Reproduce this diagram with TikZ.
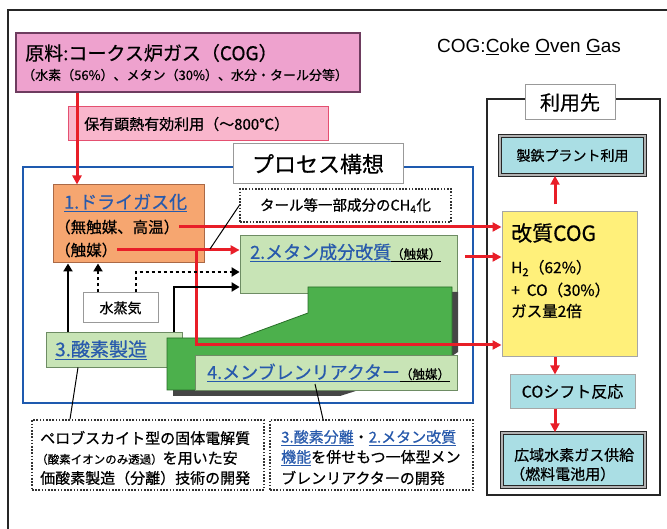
\documentclass[tikz,border=0pt]{standalone}
\usepackage{fontspec}
\setmainfont{Noto Sans CJK JP}[FakeBold=0.6]
\newfontfamily\latinsans{Liberation Sans}
\usetikzlibrary{arrows.meta,calc}
\definecolor{pinkfill}{RGB}{238,162,206}
\definecolor{pinkline}{RGB}{110,60,95}
\definecolor{labfill}{RGB}{249,182,204}
\definecolor{labline}{RGB}{228,80,112}
\definecolor{orfill}{RGB}{246,166,112}
\definecolor{orline}{RGB}{170,105,70}
\definecolor{lgfill}{RGB}{200,228,182}
\definecolor{lgline}{RGB}{110,140,100}
\definecolor{dkgreen}{RGB}{76,176,76}
\definecolor{dkgline}{RGB}{40,110,40}
\definecolor{ltblue}{RGB}{170,222,228}
\definecolor{yel}{RGB}{255,240,122}
\definecolor{frameblue}{RGB}{30,90,175}
\definecolor{linkblue}{RGB}{40,90,172}
\definecolor{redc}{RGB}{232,30,40}
\newlength\ulw
\newcommand\myul[1]{\settowidth\ulw{#1}\rlap{\rule[-3.5pt]{\ulw}{1.2pt}}#1}
\newcommand\thinul[1]{\settowidth\ulw{#1}\rlap{\rule[-2.5pt]{\ulw}{0.8pt}}#1}
\newcommand\fs[1]{\fontsize{#1}{#1}\selectfont}
\newcommand\bx[6]{\node[#6, inner sep=0pt, minimum width={(#4-#2)*1pt}, minimum height={(#5-#3)*1pt}] (#1) at ({(#2+#4)/2},{(#3+#5)/2}) {};}
\begin{document}
\begin{tikzpicture}[x=1pt,y=-1pt,
  txt/.style={inner sep=0pt, anchor=west},
  lgbox/.style={draw=lgline, fill=lgfill, line width=0.8pt},
  dotbox/.style={draw=black!80, line width=1.6pt, dash pattern=on 1.6pt off 1.6pt},
  dblbox/.style={draw=black!85, fill=ltblue, line width=1.5pt, double=gray!60, double distance=1.5pt},
  graybox/.style={draw=gray!80, fill=white, line width=1pt},
  redarr/.style={draw=redc, line width=3pt, -{Triangle[length=9pt,width=9pt]}},
  blkarr/.style={draw=black, line width=2.8pt, -{Triangle[length=8pt,width=9pt]}},
  dotarr/.style={blkarr, dash pattern=on 3pt off 3pt},
  thin/.style={draw=black, line width=1pt}]
\useasboundingbox (0,0) rectangle (667,529);
\fill[white] (0,0) rectangle (667,529);
% outer frame
\coordinate (ofbl) at (8,529);
\coordinate (oftl) at (8,10);
\coordinate (oftr) at (667,10);
\draw[line width=1.8pt, black!85] (ofbl) -- (oftl) -- (oftr);
% COG legend
\node[txt, font=\latinsans\fs{19}] (cog) at (437,47) {COG:\thinul{C}oke \thinul{O}ven \thinul{G}as};
% raw material box
\bx{P}{16}{33}{360}{92}{draw=pinkline, fill=pinkfill, line width=1.3pt}
\node[txt, font=\fs{19}] (Pt1) at (25,53) {原料:コークス炉ガス（COG）};
\node[txt, font=\fs{13}] (Pt2) at (22,75) {（水素（56\%）、メタン（30\%）、水分・タール分等）};
% heat label
\bx{L}{68}{107}{328}{141}{draw=labline, fill=labfill, line width=1pt}
\node[txt, font=\fs{15}] (Lt) at (84,124) {保有顕熱有効利用（～800℃）};
% process frame
\bx{B}{23}{167}{473}{403}{draw=frameblue, line width=2.8pt}
\bx{T}{233}{144}{403}{184}{graybox}
\node[font=\fs{22}] (Tt) at (T) {プロセス構想};
% 1. dry gas
\bx{D}{53}{185}{204}{263}{draw=orline, fill=orfill, line width=1pt}
\node[txt, font=\fs{18}, text=linkblue] (Dt1) at (64,203) {\myul{1.ドライガス化}};
\node[txt, font=\fs{15.5}] (Dt2) at (55,227) {（無触媒、高温）};
\node[txt, font=\fs{15.5}] (Dt3) at (55,250) {（触媒）};
% tar box
\bx{Tar}{240}{189}{451}{222}{dotbox}
\node[font=\fs{14.5}] (Tart) at (Tar) {タール等一部成分のCH\textsubscript{4}化};
% 2. methane reforming
\bx{M}{240}{235}{457}{293}{lgbox}
\node[txt, font=\fs{18}] (Mt) at (250,253) {{\color{linkblue}\myul{2.メタン成分改質}}{\fs{12.5}\myul{（触媒）}}};
% 3. oxygen
\bx{O}{46}{332}{182}{367}{lgbox}
\node[txt, font=\fs{19}, text=linkblue] (Ot) at (55,350) {\myul{3.酸素製造}};
% steam
\bx{S}{83}{293}{158}{323}{graybox}
\node[font=\fs{14}] (St) at (S) {水蒸気};
% dark green shape with shadow
\fill[gray!55!black] (452,292) -- (458,292) -- (458,352) -- (452,356) -- cycle;
\fill[gray!55!black] (173,389) -- (173,396) -- (340,396) -- (362,389) -- cycle;
\filldraw[fill=dkgreen, draw=dkgline, line width=0.8pt] (167,338) -- (240,338) -- (308,313) -- (308,287) -- (452,287) -- (452,390) -- (167,390) -- cycle;
% 4. membrane reactor
\bx{R}{195}{355}{457}{390}{lgbox}
\node[txt, font=\fs{18}] (Rt) at (207,373) {{\color{linkblue}\myul{4.メンブレンリアクター}}{\fs{12.5}\myul{（触媒）}}};
% right panel
\bx{F}{487}{99}{660}{495}{draw=black!85, line width=2.2pt}
\bx{U}{525}{85}{615}{120}{graybox}
\node[font=\fs{20}] (Ut) at (U) {利用先};
\bx{K}{500}{136}{645}{175}{dblbox}
\node[font=\fs{14}] (Kt) at (K) {製鉄プラント利用};
\bx{Y}{502}{212}{637}{357}{draw=gray!70, fill=yel, line width=1pt}
\node[txt, font=\fs{21}] (Yt1) at (511,233) {改質COG};
\node[txt, font=\fs{15.5}] (Yt2) at (511,268) {H\textsubscript{2}（62\%）};
\node[txt, font=\fs{15.5}] (Yt3) at (511,290) {+\ \ CO（30\%）};
\node[txt, font=\fs{15.5}] (Yt4) at (511,311) {ガス量2倍};
\bx{C}{510}{375}{635}{408}{draw=gray!70, fill=ltblue, line width=1pt}
\node[font=\fs{16}] (Ct) at (C) {COシフト反応};
\bx{W}{502}{433}{645}{487}{dblbox}
\node[txt, font=\fs{15}] (Wt1) at (514,455) {広域水素ガス供給};
\node[txt, font=\fs{15}] (Wt2) at (510,474) {（燃料電池用）};
% bottom notes
\bx{LB}{32}{420}{264}{490}{dotbox}
\node[txt, font=\fs{15}] (LBt1) at (40,438) {ペロブスカイト型の固体電解質};
\node[txt, font=\fs{15}] (LBt2) at (36,458) {{\fs{11.5}（酸素イオンのみ透過）}を用いた安};
\node[txt, font=\fs{15}] (LBt3) at (40,478) {価酸素製造（分離）技術の開発};
\bx{RB}{270}{420}{473}{490}{dotbox}
\node[txt, font=\fs{15}] (RBt1) at (281,438) {{\color{linkblue}\myul{3.酸素分離}}・{\color{linkblue}\myul{2.メタン改質}}};
\node[txt, font=\fs{15}] (RBt2) at (281,458) {{\color{linkblue}\myul{機能}}を併せもつ一体型メン};
\node[txt, font=\fs{15}] (RBt3) at (281,478) {ブレンリアクターの開発};
% connectors: red
\coordinate (a0x) at (77,0);
\draw[redarr] (P.south -| a0x) -- (D.north -| a0x);
\draw[redarr] (Dt2.east) -- (Dt2.east -| Y.west);
\draw[redarr] (Dt3.east) -- (Dt3.east -| M.west);
\coordinate (rbx) at (196,0);
\coordinate (rby) at (0,345);
\draw[redarr] (Dt3.east -| rbx) |- (Y.west |- rby);
\coordinate (mry) at (465,257);
\draw[redarr] (mry) -- (mry -| Y.west);
\coordinate (rpx) at (555,0);
\draw[redarr, shorten <=7pt] (Y.north -| rpx) -- (K.south -| rpx);
\draw[redarr] (Y.south -| rpx) -- (C.north -| rpx);
\draw[redarr] (C.south -| rpx) -- (W.north -| rpx);
% connectors: black
\coordinate (k1x) at (68,0);
\draw[blkarr] (O.north -| k1x) -- (D.south -| k1x);
\coordinate (k2x) at (98,0);
\draw[dotarr] (S.north -| k2x) -- (D.south -| k2x);
\coordinate (k3x) at (136,0);
\coordinate (k3y) at (0,272);
\draw[dotarr] (S.north -| k3x) |- (M.west |- k3y);
\coordinate (k4x) at (174,0);
\coordinate (k4y) at (0,287);
\draw[blkarr] (O.north -| k4x) |- (M.west |- k4y);
% callouts
\coordinate (c1s) at (210,249);
\draw[thin] (c1s) -- (Tar.west);
\coordinate (c2a) at (78,0);
\coordinate (c2b) at (70,0);
\draw[thin] (O.south -| c2a) -- (LB.north -| c2b);
\coordinate (c3s) at (315,384);
\coordinate (c3x) at (323,0);
\draw[thin] (c3s) -- (RB.north -| c3x);
\end{tikzpicture}
\end{document}
